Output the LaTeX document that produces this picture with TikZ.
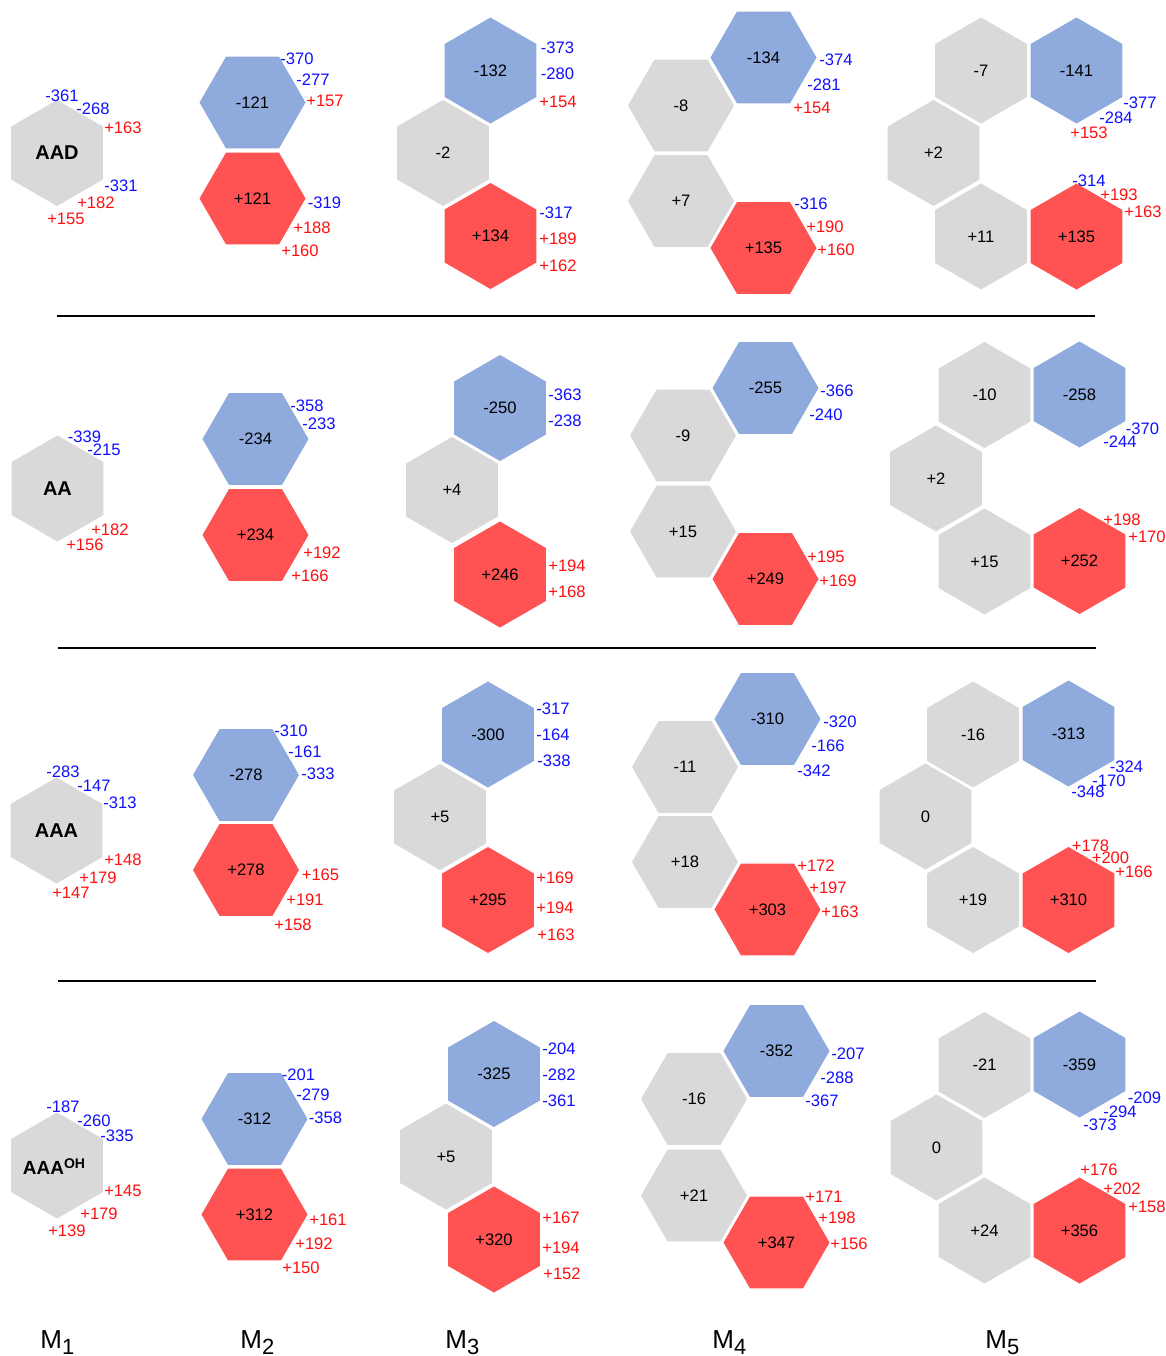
\documentclass[tikz,border=0pt]{standalone}
\usepackage{fontspec}
\setmainfont{Liberation Sans}
\usetikzlibrary{shapes.geometric}
\definecolor{hexgrey}{HTML}{D9D9D9}
\definecolor{hexblue}{HTML}{8FAADC}
\definecolor{hexred}{HTML}{FF5353}
\definecolor{lblblue}{HTML}{1010FF}
\definecolor{lblred}{HTML}{FF1010}
\newcommand\molsub[1]{\raisebox{-3pt}{\fontsize{11}{11}\selectfont #1}}

\begin{document}
\begin{tikzpicture}[x=0.5pt,y=-0.5pt,
  every node/.style={font=\fontsize{8.3}{10}\selectfont,inner sep=0pt},
  hex/.style={regular polygon,regular polygon sides=6,minimum size=53pt,outer sep=0pt},
  flat/.style={hex},
  pointy/.style={hex,shape border rotate=30},
  gr/.style={fill=hexgrey},
  bl/.style={fill=hexblue},
  rd/.style={fill=hexred},
  lb/.style={text=lblblue},
  lr/.style={text=lblred},
  mol/.style={font=\fontsize{10}{12}\selectfont\bfseries},
  col/.style={font=\fontsize{13}{15}\selectfont,anchor=base west}]
\fill[white] (0,0) rectangle (1166,1356);
\useasboundingbox (0,0) rectangle (1166,1356);

% row 1: AAD
\node[pointy,gr,mol] (aad) at (57,153) {AAD};
\node[flat,bl] (r1m2b) at (252.5,102.5) {-121};
\node[flat,rd] (r1m2r) at (252.5,198.5) {+121};
\node[pointy,bl] (r1m3b) at (490.5,70.5) {-132};
\node[pointy,gr] (r1m3g) at (443,153) {-2};
\node[pointy,rd] (r1m3r) at (490.5,236) {+134};
\node[flat,bl] (r1m4b) at (763.5,57.5) {-134};
\node[flat,gr] (r1m4g1) at (681,105.5) {-8};
\node[flat,gr] (r1m4g2) at (681,201) {+7};
\node[flat,rd] (r1m4r) at (763.5,248) {+135};
\node[pointy,gr] (r1m5g1) at (981,70.5) {-7};
\node[pointy,bl] (r1m5b) at (1076.5,70.5) {-141};
\node[pointy,gr] (r1m5g2) at (933.5,153) {+2};
\node[pointy,gr] (r1m5g3) at (981,236.5) {+11};
\node[pointy,rd] (r1m5r) at (1076.5,236.5) {+135};
\foreach \x/\y/\t [count=\i] in {62/96/-361,93/109/-268,121/186/-331,297/59/-370,313/80/-277,
  324.5/203/-319,557.5/48/-373,557.5/74/-280,556/213/-317,836/60/-374,824/85/-281,
  811/204/-316,1140/103/-377,1116/118/-284,1089/181/-314}
  \node[lb] (b1-\i) at (\x,\y) {\t};
\foreach \x/\y/\t [count=\i] in {123/127.5/+163,96/202.5/+182,66/219/+155,325/100.5/+157,
  312/228/+188,300/251/+160,558/102/+154,558/239/+189,558/265.5/+162,812/108/+154,
  825/227/+190,836/250/+160,1089/133/+153,1119/195/+193,1143/212/+163}
  \node[lr] (p1-\i) at (\x,\y) {\t};
\draw[line width=1pt] (57,316) -- (1095,316);

% row 2: AA
\node[pointy,gr,mol] (aa) at (57.5,488.5) {AA};
\node[flat,bl] (r2m2b) at (255.5,439) {-234};
\node[flat,rd] (r2m2r) at (255.5,535) {+234};
\node[pointy,bl] (r2m3b) at (500,408) {-250};
\node[pointy,gr] (r2m3g) at (452,490) {+4};
\node[pointy,rd] (r2m3r) at (500,574.5) {+246};
\node[flat,bl] (r2m4b) at (765.5,388) {-255};
\node[flat,gr] (r2m4g1) at (683,435.5) {-9};
\node[flat,gr] (r2m4g2) at (683,531.5) {+15};
\node[flat,rd] (r2m4r) at (765.5,579) {+249};
\node[pointy,gr] (r2m5g1) at (984.5,395) {-10};
\node[pointy,bl] (r2m5b) at (1079.5,394.5) {-258};
\node[pointy,gr] (r2m5g2) at (936,478.5) {+2};
\node[pointy,gr] (r2m5g3) at (984.5,561.5) {+15};
\node[pointy,rd] (r2m5r) at (1079.5,561) {+252};
\foreach \x/\y/\t [count=\i] in {84.5/437/-339,104/450/-215,307/405.5/-358,319/424/-233,
  565/395/-363,565/421/-238,837/391/-366,826/415/-240,1142.5/429/-370,1120/442/-244}
  \node[lb] (b2-\i) at (\x,\y) {\t};
\foreach \x/\y/\t [count=\i] in {110/530/+182,85/544.5/+156,322/553/+192,310/575.5/+166,
  567/565.5/+194,567/592/+168,826/557/+195,838/581/+169,1122/520/+198,1147/537/+170}
  \node[lr] (p2-\i) at (\x,\y) {\t};
\draw[line width=1pt] (58,648) -- (1096,648);

% row 3: AAA
\node[pointy,gr,mol] (aaa) at (56.5,830.5) {AAA};
\node[flat,bl] (r3m2b) at (246,775) {-278};
\node[flat,rd] (r3m2r) at (246,870) {+278};
\node[pointy,bl] (r3m3b) at (488,734.5) {-300};
\node[pointy,gr] (r3m3g) at (440,817) {+5};
\node[pointy,rd] (r3m3r) at (488,900) {+295};
\node[flat,bl] (r3m4b) at (767.5,719) {-310};
\node[flat,gr] (r3m4g1) at (685,767) {-11};
\node[flat,gr] (r3m4g2) at (685,862) {+18};
\node[flat,rd] (r3m4r) at (767.5,909.5) {+303};
\node[pointy,gr] (r3m5g1) at (973,734.5) {-16};
\node[pointy,bl] (r3m5b) at (1068.5,733.5) {-313};
\node[pointy,gr] (r3m5g2) at (925.5,816.5) {0};
\node[pointy,gr] (r3m5g3) at (973,900) {+19};
\node[pointy,rd] (r3m5r) at (1068.5,900) {+310};
\foreach \x/\y/\t [count=\i] in {63/772/-283,94/785.5/-147,120/803/-313,291/731/-310,
  305/752/-161,318/774/-333,553/709/-317,553/735/-164,554/761/-338,840/722/-320,
  828/746/-166,814/771/-342,1126.5/767/-324,1109/781/-170,1088/792/-348}
  \node[lb] (b3-\i) at (\x,\y) {\t};
\foreach \x/\y/\t [count=\i] in {123/860/+148,98/878/+179,71/893/+147,320.5/875/+165,
  305/900/+191,293/924.5/+158,555/878/+169,555/908/+194,556/935/+163,816/866/+172,
  828/888/+197,840/912/+163,1090.5/846/+178,1110.5/858/+200,1134/872/+166}
  \node[lr] (p3-\i) at (\x,\y) {\t};
\draw[line width=1pt] (58,981) -- (1096,981);

% row 4: AAA-OH
\node[pointy,gr,mol] (aaaoh) at (57,1165.5) {};
\node[mol] (aaaohtxt) at (54,1167) {\fontsize{9.5}{10}\selectfont AAA\raisebox{3pt}{\fontsize{7}{7}\selectfont OH}};
\node[flat,bl] (r4m2b) at (254.5,1119) {-312};
\node[flat,rd] (r4m2r) at (254.5,1214.5) {+312};
\node[pointy,bl] (r4m3b) at (494,1074) {-325};
\node[pointy,gr] (r4m3g) at (446,1156.5) {+5};
\node[pointy,rd] (r4m3r) at (494,1239.5) {+320};
\node[flat,bl] (r4m4b) at (776.5,1051) {-352};
\node[flat,gr] (r4m4g1) at (694,1099) {-16};
\node[flat,gr] (r4m4g2) at (694,1195.5) {+21};
\node[flat,rd] (r4m4r) at (776.5,1242.5) {+347};
\node[pointy,gr] (r4m5g1) at (984.5,1065) {-21};
\node[pointy,bl] (r4m5b) at (1079.5,1064.5) {-359};
\node[pointy,gr] (r4m5g2) at (936.5,1147.5) {0};
\node[pointy,gr] (r4m5g3) at (984.5,1230.5) {+24};
\node[pointy,rd] (r4m5r) at (1079.5,1230.5) {+356};
\foreach \x/\y/\t [count=\i] in {63/1107/-187,94/1121/-260,117/1136/-335,298.5/1075/-201,
  313/1095/-279,325.5/1118/-358,559/1049/-204,559/1075/-282,559/1101/-361,848/1054/-207,
  837/1078/-288,822/1101/-367,1144.5/1098/-209,1120/1112/-294,1100/1125/-373}
  \node[lb] (b4-\i) at (\x,\y) {\t};
\foreach \x/\y/\t [count=\i] in {123/1191/+145,99/1214/+179,67/1230.5/+139,328/1220/+161,
  314/1244/+192,301/1268/+150,561/1218/+167,561/1248/+194,562/1274/+152,824/1197/+171,
  837/1218/+198,849/1244/+156,1099/1170/+176,1122/1189/+202,1147/1207/+158}
  \node[lr] (p4-\i) at (\x,\y) {\t};

% column labels
\node[col] (m1) at (40,1348) {M\molsub{1}};
\node[col] (m2) at (240,1348) {M\molsub{2}};
\node[col] (m3) at (445,1348) {M\molsub{3}};
\node[col] (m4) at (712,1348) {M\molsub{4}};
\node[col] (m5) at (985,1348) {M\molsub{5}};
\end{tikzpicture}
\end{document}
